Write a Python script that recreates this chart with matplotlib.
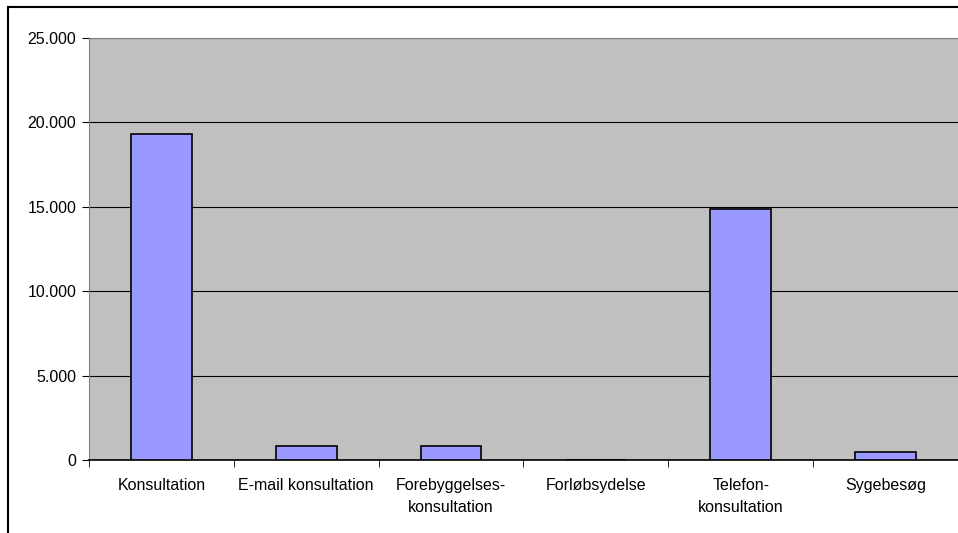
import matplotlib
matplotlib.use('Agg')
import numpy as np
from matplotlib import pyplot as plt
from matplotlib.lines import Line2D
from matplotlib.ticker import FuncFormatter, FixedLocator

# Data
categories = ['Konsultation', 'E-mail konsultation', 'Forebyggelses-\nkonsultation',
              'Forløbsydelse', 'Telefon-\nkonsultation', 'Sygebesøg']
values = [19300, 850, 850, 0, 14850, 490]
yticks = [0, 5000, 10000, 15000, 20000, 25000]

plt.rcParams['font.family'] = ['Liberation Sans', 'DejaVu Sans']

fig = plt.figure(figsize=(9.58, 5.33), dpi=100)
ax = fig.add_axes([89/958, 1 - 460/533, 1 - 89/958, (460 - 38)/533])
ax.set_facecolor('#c0c0c0')

x = np.arange(len(categories))
ax.bar(x, values, width=0.42, color='#9999ff', edgecolor='black', linewidth=1.2, zorder=3)

# Y axis
ax.set_ylim(0, 25000)
ax.set_yticks(yticks)
ax.yaxis.set_major_formatter(FuncFormatter(lambda v, p: f'{int(v):,}'.replace(',', '.')))
ax.grid(axis='y', color='black', linewidth=0.8, zorder=1)

# X axis
ax.set_xlim(-0.5, len(categories) - 0.5)
ax.set_xticks(x)
ax.set_xticklabels(categories, fontsize=11.5, linespacing=1.6)
ax.tick_params(axis='x', length=0, pad=13)
ax.xaxis.set_minor_locator(FixedLocator(np.arange(-0.5, len(categories), 1.0)))
ax.tick_params(axis='x', which='minor', length=5, direction='out', color='black')
ax.tick_params(axis='y', length=5, direction='out', labelsize=11.5, pad=4)

ax.spines['right'].set_visible(False)
ax.spines['top'].set_color('#808080')
ax.spines['left'].set_color('#808080')
ax.spines['bottom'].set_color('black')
ax.spines['bottom'].set_linewidth(1.2)

# Outer chart border (left and top)
fig.add_artist(Line2D([8/958, 8/958], [0, 1 - 7/533], color='black', linewidth=1.5))
fig.add_artist(Line2D([8/958, 1], [1 - 7/533, 1 - 7/533], color='black', linewidth=1.5))

plt.savefig('out.png', dpi=100)
